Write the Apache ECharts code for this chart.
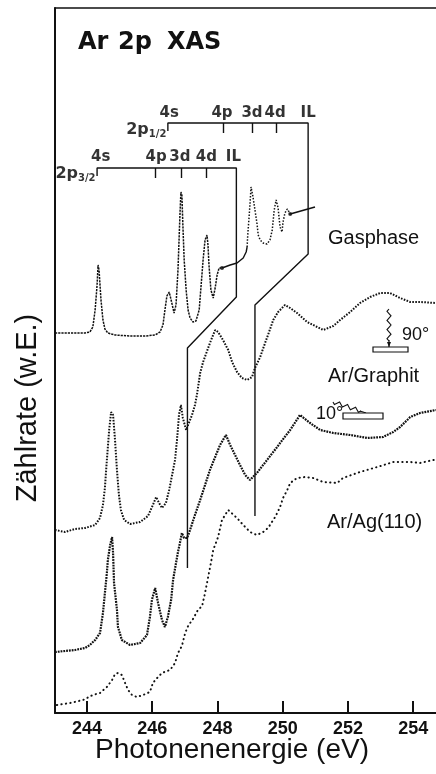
<!DOCTYPE html>
<html><head><meta charset="utf-8">
<script src="https://cdn.jsdelivr.net/npm/echarts@6/dist/echarts.min.js"></script>
<style>html,body{margin:0;padding:0;background:#fff}#c{width:436px;height:774px}</style>
</head><body><div id="c"></div>
<script>
// ---------- axis ----------
const xTicks = [244, 246, 248, 250, 252, 254];

// ---------- Gasphase (2p3/2 part) ----------
const gasE1 = [243.02,243.48,243.94,244.09,244.18,244.25,244.31,244.34,244.37,244.40,244.43,244.49,244.55,244.64,244.86,245.32,245.78,246.09,246.24,246.33,246.39,246.45,246.52,246.58,246.67,246.73,246.79,246.85,246.88,246.91,246.94,246.98,247.04,247.10,247.16,247.25,247.34,247.44,247.50,247.56,247.62,247.68,247.71,247.74,247.80,247.87,247.93,247.99,248.05,248.14];
const gasI1 = [380,380,380,381,386,403,428,448,443,428,413,393,384,380,378,377,377,378,381,388,403,417,421,413,400,408,443,498,521,518,488,453,423,403,395,391,392,403,428,453,473,478,468,448,423,415,425,438,445,445];
// connector (scale break) between the two parts
const gasConnE = [248.14,248.39,248.60,248.79,248.88,248.91];
const gasConnI = [445,448,450,455,461,466];
// Gasphase (2p1/2 part, shifted)
const gasE2 = [248.91,248.92,248.94,248.97,249.00,249.03,249.06,249.09,249.15,249.21,249.25,249.31,249.40,249.52,249.61,249.68,249.71,249.74,249.80,249.83,249.86,249.89,249.92,249.98,250.01,250.07,250.14,250.20,250.23];
const gasI2 = [466,473,483,496,510,526,528,516,503,490,478,473,470,469,473,483,493,503,513,515,505,495,486,481,491,500,504,501,498];
const gasArrowE = [250.23,250.99];
const gasArrowI = [499,506];

// ---------- Ar/Graphit 90deg ----------
const g90E = [243.02,243.33,243.63,243.94,244.25,244.40,244.49,244.55,244.61,244.68,244.74,244.80,244.86,244.92,244.98,245.04,245.14,245.32,245.63,245.87,246.02,246.12,246.21,246.30,246.42,246.52,246.61,246.70,246.76,246.82,246.88,246.94,247.04,247.10,247.22,247.31,247.37,247.47,247.56,247.77,247.93,248.02,248.17,248.33,248.45,248.60,248.75,248.91,249.06,249.15,249.31,249.46,249.55,249.71,249.86,250.07,250.23,250.44,250.75,251.06,251.24,251.55,251.76,252.07,252.37,252.68,252.99,253.29,253.60,253.91,254.21,254.70];
const g90I = [183,181,184,185,188,195,208,225,253,283,301,298,273,243,218,203,193,189,191,197,208,216,210,205,210,223,238,253,273,298,308,295,283,288,298,308,318,340,351,370,383,381,373,363,351,341,335,333,336,345,356,370,378,393,401,408,405,400,391,386,383,387,393,401,410,416,420,420,415,411,411,410];

// ---------- Ar/Graphit 10deg ----------
const g10E = [243.02,243.33,243.63,243.94,244.09,244.25,244.40,244.49,244.55,244.61,244.64,244.71,244.77,244.80,244.83,244.92,244.95,245.07,245.32,245.63,245.84,245.93,245.99,246.09,246.18,246.30,246.39,246.48,246.58,246.64,246.73,246.79,246.85,246.91,246.98,247.07,247.16,247.31,247.47,247.62,247.77,247.93,248.08,248.26,248.39,248.54,248.69,248.85,249.00,249.21,249.52,249.83,249.92,250.23,250.53,250.84,251.15,251.55,252.07,252.59,253.08,253.39,253.60,253.91,254.21,254.70];
const g10I = [61,62,63,65,68,73,80,100,120,140,153,168,176,160,130,103,86,73,68,70,78,96,113,125,110,93,86,96,113,133,150,161,170,180,175,175,183,198,213,228,243,256,268,278,268,258,248,238,233,240,253,266,270,283,298,290,283,280,278,275,276,281,286,296,300,303];

// ---------- Ar/Ag(110) ----------
const agE = [243.08,243.48,243.88,244.18,244.40,244.61,244.77,244.86,244.95,245.07,245.17,245.26,245.38,245.53,245.72,245.93,246.02,246.15,246.30,246.45,246.55,246.70,246.79,246.91,247.01,247.10,247.25,247.40,247.53,247.62,247.71,247.80,247.87,248.02,248.14,248.33,248.60,248.79,249.00,249.21,249.40,249.55,249.77,249.92,250.01,250.14,250.23,250.44,250.69,250.93,251.24,251.67,251.85,252.37,252.90,253.39,253.91,254.21,254.61,254.70];
const agI = [8,10,13,18,20,26,33,39,40,38,30,23,18,16,18,21,30,35,40,42,43,50,60,67,80,87,94,103,107,120,135,150,163,176,193,203,195,188,181,178,181,185,196,206,215,223,230,235,236,235,231,230,235,241,246,251,251,250,253,253];

// ---------- energy ladders ----------
const lad32Names = ['4s','4p','3d','4d','IL'];
const lad32E = [244.31,246.09,246.88,247.65,248.58];
const lad32LabelE = [244.42,246.12,246.85,247.66,248.49];
const lad32Level = 545;
const lad32DropE = [248.58,248.58,247.08,247.08];
const lad32DropI = [545,416,365,145];

const lad12Names = ['4s','4p','3d','4d','IL'];
const lad12E = [246.48,248.17,249.06,249.80,250.78];
const lad12LabelE = [246.52,248.14,249.06,249.77,250.78];
const lad12Level = 590;
const lad12DropE = [250.78,250.78,249.15,249.15];
const lad12DropI = [590,459,408,197];

function zip(a, b) { return a.map((x, i) => [x, b[i]]); }

const chart = echarts.init(document.getElementById('c'), null, {renderer: 'canvas'});
const K = '#111';
const FD = 'DejaVu Sans';
const FA = 'Liberation Sans';

function ladderSeries(E, level, dropE, dropI, tickLen) {
  const path = [[E[0], level - 8], [E[0], level]].concat([[E[E.length - 1], level]]);
  for (let i = 1; i < dropE.length; i++) path.push([dropE[i], dropI[i]]);
  const ticks = [];
  for (let i = 1; i < E.length - 1; i++) ticks.push([{coord: [E[i], level]}, {coord: [E[i], level - tickLen]}]);
  return {
    type: 'line', data: path, symbol: 'none', silent: true, animation: false,
    lineStyle: {color: K, width: 1.4},
    markLine: {symbol: 'none', silent: true, animation: false, label: {show: false},
      lineStyle: {color: K, width: 1.4, type: 'solid'}, data: ticks}
  };
}
function labelSeries(names, LE, y) {
  const data = names.map((n, i) => ({value: [LE[i], y], name: n}));
  return {
    type: 'scatter', data, symbolSize: 1, itemStyle: {color: 'rgba(0,0,0,0)'}, silent: true, animation: false,
    label: {show: true, position: 'inside', formatter: p => p.name, color: '#000',
      fontFamily: FD, fontWeight: 'bold', fontSize: 15}
  };
}
const subRich = {
  a: {fontFamily: FD, fontWeight: 'bold', fontSize: 16, color: '#000'},
  b: {fontFamily: FD, fontWeight: 'bold', fontSize: 10, color: '#000', padding: [9, 0, 0, 0]}
};

const option = {
  backgroundColor: '#fff',
  animation: false,
  grid: {left: 55, right: 0, top: 8, bottom: 61},
  xAxis: [{
    type: 'value', min: 243.02, max: 254.70,
    axisLine: {show: true, lineStyle: {color: K, width: 2}},
    axisTick: {show: true, inside: true, length: 12, lineStyle: {color: K, width: 2}, customValues: xTicks},
    axisLabel: {show: true, customValues: xTicks, color: K, fontFamily: FA, fontWeight: 'bold', fontSize: 18, margin: 7},
    splitLine: {show: false}
  }, {
    type: 'value', min: 243.02, max: 254.70, position: 'top',
    axisLine: {show: true, lineStyle: {color: K, width: 1.6}},
    axisTick: {show: false}, axisLabel: {show: false}, splitLine: {show: false}
  }],
  yAxis: {
    type: 'value', min: 0, max: 705,
    axisLine: {show: true, lineStyle: {color: K, width: 2}},
    axisTick: {show: false}, axisLabel: {show: false}, splitLine: {show: false}
  },
  series: [
    {type: 'line', data: zip(gasE1, gasI1), symbol: 'none', lineStyle: {color: K, width: 1.5, type: [2.2, 1.0]}},
    {type: 'line', data: zip(gasConnE, gasConnI), symbol: 'none', lineStyle: {color: K, width: 1.4}},
    {type: 'line', data: zip(gasE2, gasI2), symbol: 'none', lineStyle: {color: K, width: 1.5, type: [1.5, 1.6]}},
    {type: 'line', data: zip(gasArrowE, gasArrowI), symbol: 'none', lineStyle: {color: K, width: 1.6}},
    {type: 'scatter', data: [[gasConnE[0], gasConnI[0]], [gasArrowE[0], gasArrowI[0]]], symbolSize: 4, itemStyle: {color: K}},
    {type: 'line', data: zip(g90E, g90I), symbol: 'none', lineStyle: {color: K, width: 2, type: [1.6, 1.4]}},
    {type: 'line', data: zip(g10E, g10I), symbol: 'none', lineStyle: {color: K, width: 2.2, type: [1.8, 1.0]}},
    {type: 'line', data: zip(agE, agI), symbol: 'none', lineStyle: {color: K, width: 2, type: [0.3, 4.2], cap: 'round'}},
    ladderSeries(lad32E, lad32Level, lad32DropE, lad32DropI, 10),
    ladderSeries(lad12E, lad12Level, lad12DropE, lad12DropI, 10),
    labelSeries(lad32Names, lad32LabelE, lad32Level + 11),
    labelSeries(lad12Names, lad12LabelE, lad12Level + 10),
    {type: 'scatter', symbolSize: 1, itemStyle: {color: 'rgba(0,0,0,0)'}, silent: true,
      data: [{value: [lad32E[0], lad32Level - 6], name: '2p3/2'}, {value: [lad12E[0], lad12Level - 7], name: '2p1/2'}],
      label: {show: true, position: 'left', distance: 1,
        formatter: p => '{a|2p}{b|' + p.name.slice(2) + '}', rich: subRich}}
  ],
  graphic: []
};
chart.setOption(option);

// decorative text and sample-geometry icons
function wave(x0, y0, x1, y1, n, amp) {
  const pts = [];
  const dx = x1 - x0, dy = y1 - y0, L = Math.hypot(dx, dy);
  const nx = -dy / L, ny = dx / L;
  for (let i = 0; i <= n; i++) {
    const t = i / n, s = (i % 2 === 0 ? 0 : (i % 4 === 1 ? amp : -amp));
    pts.push([x0 + dx * t + nx * s, y0 + dy * t + ny * s]);
  }
  return pts;
}
const txt = (x, y, text, font, extra) => Object.assign({type: 'text', x, y, silent: true,
  style: {text, font, fill: K, verticalAlign: 'middle', align: 'left'}}, extra || {});
chart.setOption({graphic: [
  txt(78, 43, 'Ar', 'bold 24px "DejaVu Sans"'),
  txt(118, 43, '2p', 'bold 24px "DejaVu Sans"'),
  txt(167, 43, 'XAS', 'bold 24px "DejaVu Sans"'),
  txt(328, 238, 'Gasphase', '20px "Liberation Sans"'),
  txt(328, 376, 'Ar/Graphit', '20px "Liberation Sans"'),
  txt(327, 522, 'Ar/Ag(110)', '20px "Liberation Sans"'),
  txt(402, 335, '90°', '18px "Liberation Sans"'),
  txt(316, 414, '10°', '18px "Liberation Sans"'),
  {type: 'text', x: 232, y: 750, silent: true, style: {text: 'Photonenenergie (eV)', font: '28px "Liberation Sans"', fill: K, align: 'center', verticalAlign: 'middle'}},
  {type: 'text', x: 28, y: 408, rotation: Math.PI / 2, silent: true, style: {text: 'Zählrate (w.E.)', font: '29px "Liberation Sans"', fill: K, align: 'center', verticalAlign: 'middle'}},
  {type: 'polyline', silent: true, shape: {points: wave(389, 309, 389, 341, 14, 2)}, style: {stroke: K, lineWidth: 1.1, fill: null}},
  {type: 'polyline', silent: true, shape: {points: [[389, 340], [389, 347]]}, style: {stroke: K, lineWidth: 1.2}},
  {type: 'polygon', silent: true, shape: {points: [[387, 342], [391, 342], [389, 347]]}, style: {fill: K}},
  {type: 'rect', silent: true, shape: {x: 373, y: 347, width: 35, height: 5}, style: {fill: '#fff', stroke: K, lineWidth: 1.2}},
  {type: 'polyline', silent: true, shape: {points: wave(333, 402, 361, 411, 14, 2)}, style: {stroke: K, lineWidth: 1.1, fill: null}},
  {type: 'polyline', silent: true, shape: {points: [[360, 411], [366, 413]]}, style: {stroke: K, lineWidth: 1.2}},
  {type: 'rect', silent: true, shape: {x: 343, y: 413, width: 40, height: 6}, style: {fill: '#fff', stroke: K, lineWidth: 1.2}}
]});
</script></body></html>
